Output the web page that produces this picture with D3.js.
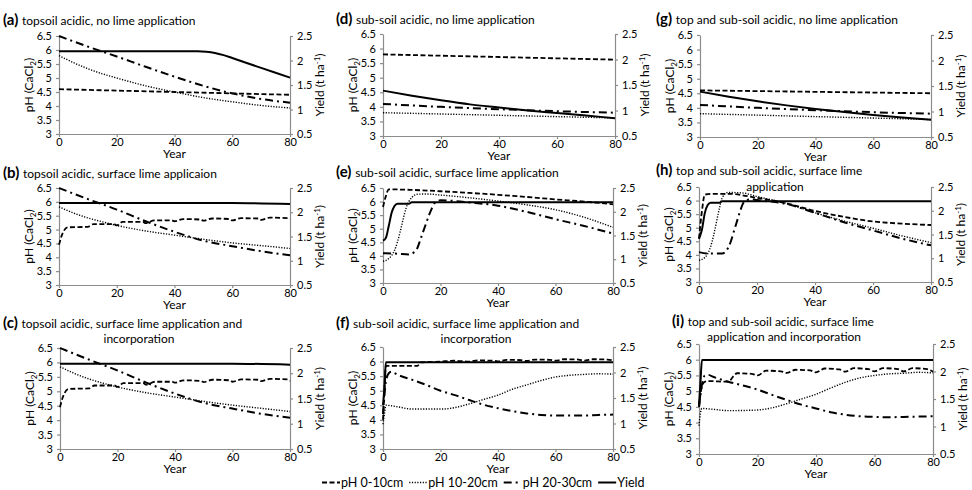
<!DOCTYPE html>
<html lang="en">
<head>
<meta charset="UTF-8">
<title>Soil pH and yield under lime scenarios</title>
<script src="https://cdnjs.cloudflare.com/ajax/libs/d3/7.8.5/d3.min.js"></script>
<style>
  body { margin: 0; background: #fff; }
  svg { font-family: Lato, "Open Sans", sans-serif; }
  .axis path, .axis line { stroke: #8c8c8c; stroke-width: 1.2px; }
  .axis text { fill: #000; font-size: 11px; font-family: Lato, sans-serif; }
</style>
</head>
<body>
<svg id="chart" width="972" height="490"></svg>
<script>
// ---- data: [year, value]; pH series on left axis, yield (t/ha) on right axis ----
const a_ph010  = [[0,4.6],[20,4.55],[40,4.5],[60,4.45],[80,4.4]];
const a_ph1020 = [[0,5.8],[5,5.55],[10,5.33],[15,5.15],[20,5.0],[30,4.72],[40,4.5],[50,4.3],[60,4.15],[70,4.02],[80,3.93]];
const a_ph2030 = [[0,6.5],[10,6.12],[20,5.77],[30,5.4],[40,5.05],[50,4.72],[60,4.45],[70,4.25],[80,4.12]];
const a_yield  = [[0,2.19],[48,2.19],[51,2.18],[54,2.155],[57,2.11],[60,2.05],[70,1.85],[80,1.65]];

const b_ph010  = [[0,4.45],[1,4.8],[3,5.08],[10,5.1],[12,5.2],[19,5.2],[20,5.15],[22,5.28],[29,5.28],[30,5.23],[33,5.33],[39,5.33],[40,5.3],[43,5.38],[49,5.36],[50,5.32],[53,5.4],[59,5.38],[60,5.33],[63,5.41],[69,5.4],[70,5.35],[73,5.43],[79,5.41],[80,5.37]];
const b_ph1020 = [[0,5.82],[5,5.6],[10,5.42],[15,5.28],[20,5.15],[30,4.95],[40,4.8],[50,4.65],[60,4.52],[70,4.42],[80,4.32]];
const b_ph2030 = [[0,6.5],[10,6.1],[20,5.72],[30,5.3],[40,4.92],[50,4.6],[60,4.4],[70,4.22],[80,4.07]];
const b_yield  = [[0,2.19],[60,2.19],[80,2.17]];

const c_ph010  = [[0,4.45],[1,4.8],[3,5.08],[10,5.1],[12,5.2],[19,5.2],[20,5.15],[22,5.28],[29,5.28],[30,5.23],[33,5.33],[39,5.33],[40,5.3],[43,5.38],[49,5.36],[50,5.32],[53,5.4],[59,5.38],[60,5.33],[63,5.41],[69,5.4],[70,5.35],[73,5.43],[79,5.41],[80,5.36]];
const c_ph1020 = [[0,5.85],[5,5.62],[10,5.43],[15,5.28],[20,5.15],[30,4.95],[40,4.8],[50,4.65],[60,4.52],[70,4.41],[80,4.3]];
const c_ph2030 = [[0,6.5],[10,6.1],[20,5.72],[30,5.3],[40,4.92],[50,4.6],[60,4.4],[70,4.22],[80,4.08]];
const c_yield  = [[0,2.19],[60,2.19],[80,2.17]];

const d_ph010  = [[0,5.8],[40,5.71],[80,5.62]];
const d_ph1020 = [[0,3.8],[40,3.71],[80,3.62]];
const d_ph2030 = [[0,4.1],[20,4.0],[40,3.92],[60,3.85],[80,3.8]];
const d_yield  = [[0,1.39],[10,1.29],[20,1.2],[30,1.12],[40,1.06],[50,1.0],[60,0.95],[70,0.9],[80,0.85]];

const e_ph010  = [[0,5.8],[1,6.2],[2,6.45],[10,6.43],[20,6.38],[30,6.32],[40,6.25],[50,6.17],[60,6.08],[70,6.0],[80,5.9]];
const e_ph1020 = [[0,3.8],[2,3.9],[4,4.2],[5,4.5],[6,4.9],[7,5.35],[8,5.75],[9,6.0],[10,6.15],[12,6.27],[15,6.28],[20,6.24],[30,6.14],[40,6.02],[50,5.88],[60,5.7],[70,5.42],[80,5.05]];
const e_ph2030 = [[0,4.1],[5,4.08],[9,4.05],[11,4.15],[12,4.3],[13,4.6],[14,4.9],[15,5.2],[16,5.5],[17,5.75],[18,5.95],[19,6.02],[20,6.05],[25,6.02],[30,5.97],[40,5.85],[50,5.62],[60,5.35],[70,5.1],[80,4.82]];
const e_yield  = [[0,1.39],[1,1.45],[2,1.7],[3,1.98],[4,2.12],[5,2.17],[9,2.17],[10,2.2],[80,2.2]];

const f_ph010  = [[0,4.0],[0.5,5.0],[1,5.85],[12,5.85],[13,5.97],[20,6.0],[25,6.03],[30,6.0],[33,6.04],[38,6.03],[40,6.01],[43,6.06],[48,6.05],[50,6.02],[53,6.07],[58,6.06],[60,6.03],[63,6.08],[68,6.07],[70,6.03],[73,6.08],[78,6.07],[80,6.04]];
const f_ph1020 = [[0,3.85],[0.5,4.2],[1,4.5],[5,4.45],[10,4.37],[20,4.37],[25,4.42],[30,4.55],[35,4.7],[40,4.85],[45,5.05],[50,5.2],[55,5.35],[60,5.47],[65,5.53],[70,5.56],[75,5.58],[80,5.57]];
const f_ph2030 = [[0,4.2],[1,5.3],[2,5.6],[3,5.65],[5,5.55],[10,5.38],[15,5.2],[20,5.0],[25,4.85],[30,4.68],[35,4.52],[40,4.4],[45,4.3],[50,4.22],[55,4.17],[60,4.15],[65,4.15],[70,4.15],[75,4.17],[80,4.18]];
const f_yield  = [[0,1.36],[0.5,1.7],[1,2.2],[80,2.2]];

const g_ph010  = [[0,4.6],[40,4.55],[80,4.5]];
const g_ph1020 = [[0,3.8],[40,3.7],[80,3.6]];
const g_ph2030 = [[0,4.1],[20,4.0],[40,3.92],[60,3.85],[80,3.8]];
const g_yield  = [[0,1.39],[10,1.29],[20,1.2],[30,1.12],[40,1.05],[50,0.99],[60,0.93],[70,0.88],[80,0.84]];

const h_ph010  = [[0,4.6],[1,5.6],[2,6.22],[5,6.25],[10,6.25],[20,6.1],[30,5.9],[40,5.62],[50,5.4],[60,5.23],[70,5.15],[80,5.1]];
const h_ph1020 = [[0,3.8],[2,3.9],[4,4.3],[5,4.7],[6,5.2],[7,5.7],[8,6.1],[10,6.3],[15,6.28],[20,6.15],[30,5.9],[40,5.55],[50,5.25],[60,4.98],[70,4.7],[80,4.45]];
const h_ph2030 = [[0,4.1],[3,4.05],[8,4.05],[10,4.25],[11,4.5],[12,4.85],[13,5.2],[14,5.55],[15,5.85],[16,6.0],[18,6.05],[20,6.02],[30,5.88],[40,5.55],[50,5.2],[60,4.9],[70,4.6],[80,4.35]];
const h_yield  = [[0,1.41],[1,1.6],[2,1.95],[3,2.12],[4,2.17],[7,2.17],[8,2.2],[80,2.2]];

const i_ph010  = [[0,4.5],[1,5.15],[2,5.3],[3,5.32],[10,5.3],[12,5.5],[13,5.57],[18,5.55],[20,5.5],[23,5.65],[28,5.63],[30,5.58],[33,5.68],[38,5.66],[40,5.6],[43,5.72],[48,5.69],[50,5.62],[53,5.73],[58,5.7],[60,5.63],[63,5.73],[68,5.7],[70,5.63],[73,5.73],[78,5.7],[80,5.62]];
const i_ph1020 = [[0,3.9],[0.5,4.3],[1,4.45],[5,4.42],[10,4.38],[20,4.4],[25,4.47],[30,4.6],[35,4.75],[40,4.9],[45,5.1],[50,5.28],[55,5.42],[60,5.5],[65,5.55],[70,5.57],[75,5.6],[80,5.58]];
const i_ph2030 = [[0,4.5],[1,5.2],[2,5.5],[3,5.52],[5,5.45],[10,5.3],[15,5.18],[20,5.05],[25,4.88],[30,4.72],[35,4.57],[40,4.45],[45,4.33],[50,4.25],[55,4.2],[60,4.18],[65,4.17],[70,4.18],[75,4.19],[80,4.2]];
const i_yield  = [[0,1.4],[0.5,1.8],[1,2.21],[80,2.21]];

const phTicks    = [3, 3.5, 4, 4.5, 5, 5.5, 6, 6.5];
const yieldTicks = [0.5, 1, 1.5, 2, 2.5];
const yearTicks  = [0, 20, 40, 60, 80];
const legendLabels = ["pH 0-10cm", "pH 10-20cm", "pH 20-30cm", "Yield"];

// panel layout (pixel boxes)
const panels = [
  { tag: "(a)", lines: ["topsoil acidic, no lime application"], data: [a_ph010, a_ph1020, a_ph2030, a_yield], x0: 59, x1: 290, y0: 36, y1: 134, tx: 3, ty: 25 },
  { tag: "(b)", lines: ["topsoil acidic, surface lime applicaion"], data: [b_ph010, b_ph1020, b_ph2030, b_yield], x0: 59, x1: 290, y0: 188, y1: 285, tx: 3, ty: 178 },
  { tag: "(c)", lines: ["topsoil acidic, surface lime application and", "incorporation"], data: [c_ph010, c_ph1020, c_ph2030, c_yield], x0: 60, x1: 290, y0: 348, y1: 449, tx: 3, ty: 328, l2x: 139, l2y: 343 },
  { tag: "(d)", lines: ["sub-soil acidic, no lime application"], data: [d_ph010, d_ph1020, d_ph2030, d_yield], x0: 383, x1: 615, y0: 34, y1: 136, tx: 336, ty: 24 },
  { tag: "(e)", lines: ["sub-soil acidic, surface lime application"], data: [e_ph010, e_ph1020, e_ph2030, e_yield], x0: 383, x1: 613, y0: 188, y1: 283, tx: 336, ty: 177 },
  { tag: "(f)", lines: ["sub-soil acidic, surface lime application and", "incorporation"], data: [f_ph010, f_ph1020, f_ph2030, f_yield], x0: 383, x1: 613, y0: 347, y1: 449, tx: 336, ty: 328, l2x: 476, l2y: 343 },
  { tag: "(g)", lines: ["top and sub-soil acidic, no lime application"], data: [g_ph010, g_ph1020, g_ph2030, g_yield], x0: 700, x1: 931, y0: 35, y1: 137, tx: 656, ty: 24 },
  { tag: "(h)", lines: ["top and sub-soil acidic, surface lime", "application"], data: [h_ph010, h_ph1020, h_ph2030, h_yield], x0: 699, x1: 931, y0: 187, y1: 282, tx: 656, ty: 175, l2x: 775, l2y: 191 },
  { tag: "(i)", lines: ["top and sub-soil acidic, surface lime", "application and incorporation"], data: [i_ph010, i_ph1020, i_ph2030, i_yield], x0: 699, x1: 933, y0: 344, y1: 454, tx: 672, ty: 326, l2x: 784, l2y: 341 }
];

// line styles: dashed, dotted, dash-dot, solid
const styles = [
  { dash: "5,2.5", width: 1.8 },
  { dash: "1.2,1.5", width: 1.4 },
  { dash: "8,4,2,4", width: 2 },
  { dash: null, width: 2 }
];

const svg = d3.select("#chart");
const fmt = d => String(d);

panels.forEach(p => {
  const g = svg.append("g");
  const x = d3.scaleLinear().domain([0, 80]).range([p.x0, p.x1]);
  const yL = d3.scaleLinear().domain([3, 6.5]).range([p.y1, p.y0]);
  const yR = d3.scaleLinear().domain([0.5, 2.5]).range([p.y1, p.y0]);

  // axes
  g.append("g").attr("class", "axis")
    .attr("transform", `translate(0,${p.y1})`)
    .call(d3.axisBottom(x).tickValues(yearTicks).tickFormat(fmt).tickSize(3).tickSizeOuter(0).tickPadding(1));
  g.append("g").attr("class", "axis")
    .attr("transform", `translate(${p.x0},0)`)
    .call(d3.axisLeft(yL).tickValues(phTicks).tickFormat(fmt).tickSize(3).tickSizeOuter(0).tickPadding(4));
  g.append("g").attr("class", "axis")
    .attr("transform", `translate(${p.x1},0)`)
    .call(d3.axisRight(yR).tickValues(yieldTicks).tickFormat(fmt).tickSize(3).tickSizeOuter(0).tickPadding(4));

  // axis titles
  const midY = (p.y0 + p.y1) / 2;
  g.append("text")
    .attr("x", (p.x0 + p.x1) / 2).attr("y", p.y1 + 24)
    .attr("text-anchor", "middle").attr("font-size", 12).text("Year");

  const ph = g.append("text")
    .attr("transform", `translate(${p.x0 - 26},${midY}) rotate(-90)`)
    .attr("text-anchor", "middle").attr("font-size", 12);
  ph.append("tspan").text("pH (CaCl");
  ph.append("tspan").attr("font-size", 8).attr("dy", 3).text("2");
  ph.append("tspan").attr("dy", -3).text(")");

  const yl = g.append("text")
    .attr("transform", `translate(${p.x1 + 34},${midY}) rotate(-90)`)
    .attr("text-anchor", "middle").attr("font-size", 12);
  yl.append("tspan").text("Yield (t ha");
  yl.append("tspan").attr("font-size", 8).attr("dy", -4).text("-1");
  yl.append("tspan").attr("dy", 4).text(")");

  // series
  p.data.forEach((s, k) => {
    const yS = k === 3 ? yR : yL;
    const line = d3.line().x(d => x(d[0])).y(d => yS(d[1])).curve(d3.curveMonotoneX);
    g.append("path")
      .datum(s)
      .attr("d", line)
      .attr("fill", "none")
      .attr("stroke", "#000")
      .attr("stroke-width", styles[k].width)
      .attr("stroke-dasharray", styles[k].dash);
  });

  // panel title
  const t = g.append("text").attr("x", p.tx).attr("y", p.ty).attr("font-size", 12);
  t.append("tspan").attr("font-weight", "bold").attr("font-size", 15).text(p.tag + " ");
  t.append("tspan").text(p.lines[0]);
  if (p.lines[1]) {
    g.append("text").attr("x", p.l2x).attr("y", p.l2y)
      .attr("text-anchor", "middle").attr("font-size", 12).text(p.lines[1]);
  }
});

// legend along the bottom
const legend = svg.append("g").attr("transform", "translate(322,486.5)");
let lx = 0;
legendLabels.forEach((lab, k) => {
  legend.append("line")
    .attr("x1", lx).attr("x2", lx + 18).attr("y1", -4).attr("y2", -4)
    .attr("stroke", "#000").attr("stroke-width", styles[k].width)
    .attr("stroke-dasharray", styles[k].dash);
  const txt = legend.append("text").attr("x", lx + 19).attr("y", 0)
    .attr("font-size", 12.5).text(lab);
  lx += 19 + txt.node().getComputedTextLength() + 6;
});
</script>
</body>
</html>
